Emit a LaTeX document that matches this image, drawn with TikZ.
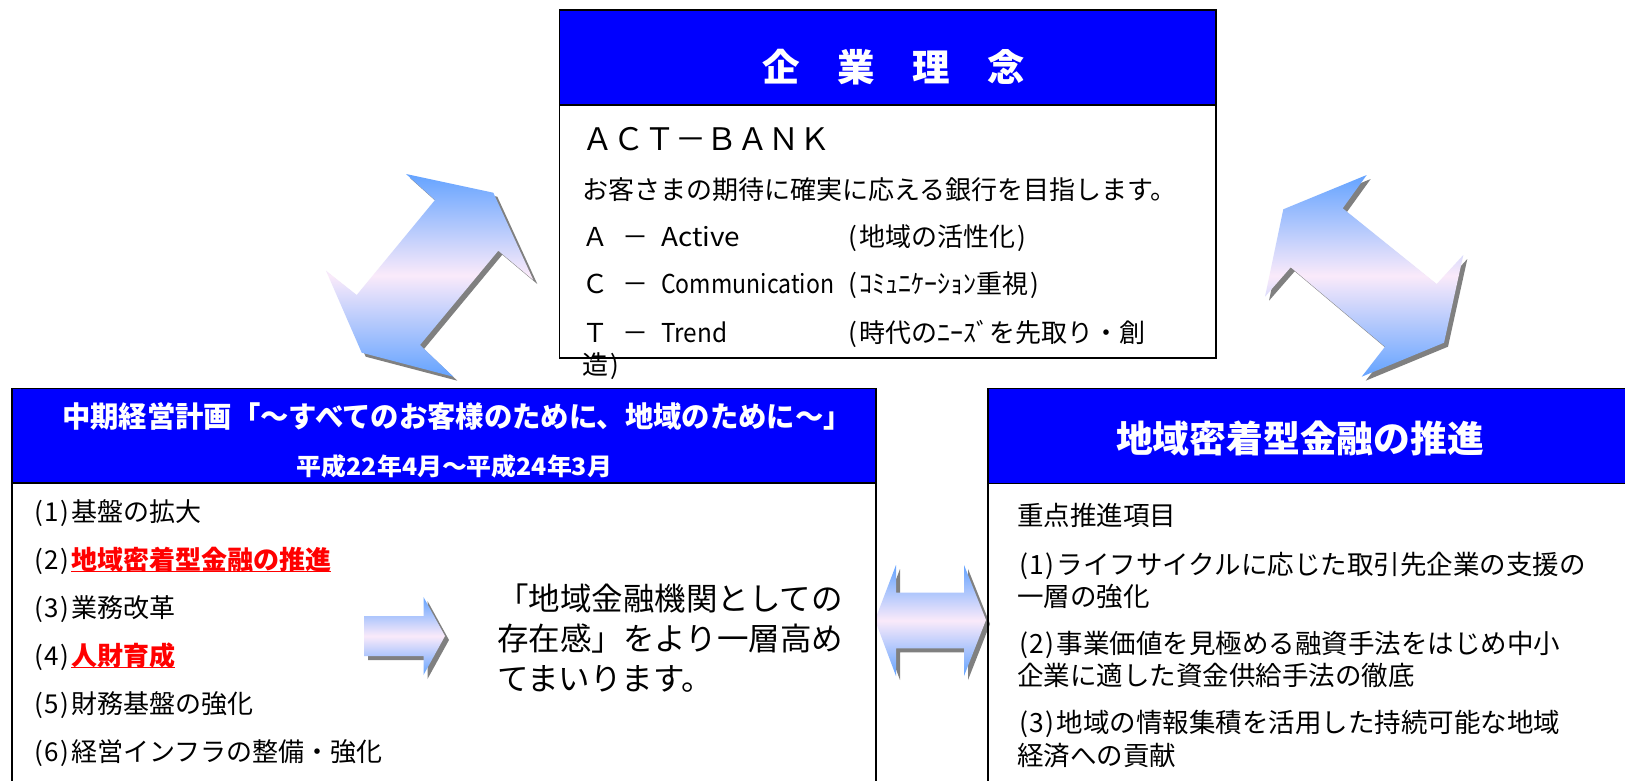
\documentclass[tikz,border=0pt]{standalone}
\usepackage{fontspec}
\setmainfont{Noto Sans CJK JP}
\usepackage{graphicx}
\definecolor{hdrblue}{RGB}{0,0,255}
\definecolor{arrblue}{RGB}{100,163,255}
\definecolor{arrpink}{RGB}{250,234,250}
\definecolor{shadowgray}{RGB}{128,128,128}
\definecolor{redtxt}{RGB}{255,0,0}
\newcommand\hw[1]{\makebox[0.5em]{#1}}
\newcommand\fitw[2]{\resizebox{#1}{\height}{#2}}
\newcommand\redul[1]{\setbox0\hbox{#1}\rlap{\rule[-2.5pt]{\wd0}{1.6pt}}\box0}
\newcommand\shadedarrow[1]{%
  \fill[shadowgray,shift={(4,4)}] #1 -- cycle;
  \shade[top color=arrblue,bottom color=arrblue,middle color=arrpink] #1 -- cycle;
}
\begin{document}
\begin{tikzpicture}[x=1pt,y=-1pt,
  box/.style={draw=black,line width=1.6pt},
  txt/.style={inner sep=0pt,anchor=base west},
  ctxt/.style={inner sep=0pt,anchor=base},
  fs/.style={font=\fontsize{#1}{#1}\selectfont,yshift={-0.38*#1}},
  fb/.style={font=\fontsize{#1}{#1}\selectfont\bfseries,yshift={-0.38*#1}},
  hdrtxt/.style={text=white}
]
\useasboundingbox (0,0) rectangle (1625,781);
\fill[white] (0,0) rectangle (1625,781);

% ---- arrows ----
\shadedarrow{(406,174) -- (493.3,192.7) -- (533.3,280) -- (498.3,250.7) -- (420,345) -- (453.3,376.7) -- (361.7,352.7) -- (326,270.7) -- (356.7,295) -- (435,200)}
\shadedarrow{(1366.7,175) -- (1283.3,209.3) -- (1265,296.7) -- (1290.7,267.3) -- (1385,346.7) -- (1361.7,376.7) -- (1444,342.7) -- (1463.3,255) -- (1436.7,284) -- (1342.7,208.3)}
\shadedarrow{(875,620) -- (896,565) -- (896,592.7) -- (964,592.7) -- (964,565) -- (986,620) -- (964,676) -- (964,648.3) -- (896,648.3) -- (896,676)}
\shadedarrow{(364,616) -- (423.5,616) -- (423.5,597) -- (445,636) -- (423.5,675) -- (423.5,656) -- (364,656)}

% ---- top box ----
\fill[hdrblue] (559.5,10) rectangle (1215.7,105);
\draw[box] (559.5,10) rectangle (1215.7,357.7);
\draw[box] (559.5,105) -- (1215.7,105);

% ---- left box ----
\fill[hdrblue] (11.7,388.3) rectangle (875.7,483);
\draw[box] (11.7,800) -- (11.7,388.3) -- (875.7,388.3) -- (875.7,800);
\draw[box] (11.7,483) -- (875.7,483);

% ---- right box ----
\fill[hdrblue] (988,388.3) rectangle (1640,483.3);
\draw[box] (988,800) -- (988,388.3) -- (1640,388.3);
\draw[box] (988,483.3) -- (1640,483.3);

% ---- top box texts ----
\node[ctxt,fb=37.5,hdrtxt] (ttitle) at (894,67) {企　業　理　念};
\node[txt,fs=31] (tact) at (582,138.5) {ＡＣＴ－ＢＡＮＫ};
\node[txt,fs=26] (tmotto) at (582,190) {お客さまの期待に確実に応える銀行を目指します。};
\node[txt,fs=26] (ta1) at (582,237) {Ａ};
\node[txt,fs=26] (ta2) at (622,237) {－};
\node[txt,fs=26] (ta3) at (661,237) {\fitw{79pt}{Active}};
\node[txt,fs=26] (ta4) at (846,237) {\hw{(}地域の活性化\hw{)}};
\node[txt,fs=26] (tc1) at (582,284) {Ｃ};
\node[txt,fs=26] (tc2) at (622,284) {－};
\node[txt,fs=26] (tc3) at (661,284) {\fitw{173pt}{Communication}};
\node[txt,fs=26] (tc4) at (846,284) {\hw{(}ｺﾐｭﾆｹｰｼｮﾝ重視\hw{)}};
\node[txt,fs=26] (tt1) at (582,333) {Ｔ};
\node[txt,fs=26] (tt2) at (622,333) {－};
\node[txt,fs=26] (tt3) at (661,333) {\fitw{66pt}{Trend}};
\node[txt,fs=26] (tt4) at (846,333) {\hw{(}時代のﾆｰｽﾞを先取り・創};
\node[txt,fs=26] (tt5) at (582,365) {造\hw{)}};

% ---- left box texts ----
\node[ctxt,fb=29,hdrtxt] (lh1) at (457,416) {\fitw{790pt}{中期経営計画「～すべてのお客様のために、地域のために～」}};
\node[ctxt,fb=24,hdrtxt] (lh2) at (454.5,466) {\fitw{315pt}{平成22年4月～平成24年3月}};
\node[txt,fs=26] (li1) at (32,511.7) {\hw{(}\hw{1}\hw{)}基盤の拡大};
\node[txt,fs=26] (li2) at (32,560) {\hw{(}\hw{2}\hw{)}\textcolor{redtxt}{\bfseries\redul{地域密着型金融の推進}}};
\node[txt,fs=26] (li3) at (32,607.5) {\hw{(}\hw{3}\hw{)}業務改革};
\node[txt,fs=26] (li4) at (32,656) {\hw{(}\hw{4}\hw{)}\textcolor{redtxt}{\bfseries\redul{人財育成}}};
\node[txt,fs=26] (li5) at (32,704) {\hw{(}\hw{5}\hw{)}財務基盤の強化};
\node[txt,fs=26] (li6) at (32,752) {\hw{(}\hw{6}\hw{)}経営インフラの整備・強化};
\node[txt,fs=31.5] (lb1) at (497,599) {「地域金融機関としての};
\node[txt,fs=31.5] (lb2) at (497,639) {存在感」をより一層高め};
\node[txt,fs=31.5] (lb3) at (497,679) {てまいります。};

% ---- right box texts ----
\node[ctxt,fb=36.8,hdrtxt] (rtitle) at (1300,439) {地域密着型金融の推進};
\node[txt,fs=26.5] (r0) at (1017,515) {重点推進項目};
\node[txt,fs=26.5] (r1a) at (1017,564) {\hw{(}\hw{1}\hw{)}ライフサイクルに応じた取引先企業の支援の};
\node[txt,fs=26.5] (r1b) at (1017,596.5) {一層の強化};
\node[txt,fs=26.5] (r2a) at (1017,643.5) {\hw{(}\hw{2}\hw{)}事業価値を見極める融資手法をはじめ中小};
\node[txt,fs=26.5] (r2b) at (1017,675.5) {企業に適した資金供給手法の徹底};
\node[txt,fs=26.5] (r3a) at (1017,722.5) {\hw{(}\hw{3}\hw{)}地域の情報集積を活用した持続可能な地域};
\node[txt,fs=26.5] (r3b) at (1017,755.5) {経済への貢献};
\end{tikzpicture}
\end{document}
